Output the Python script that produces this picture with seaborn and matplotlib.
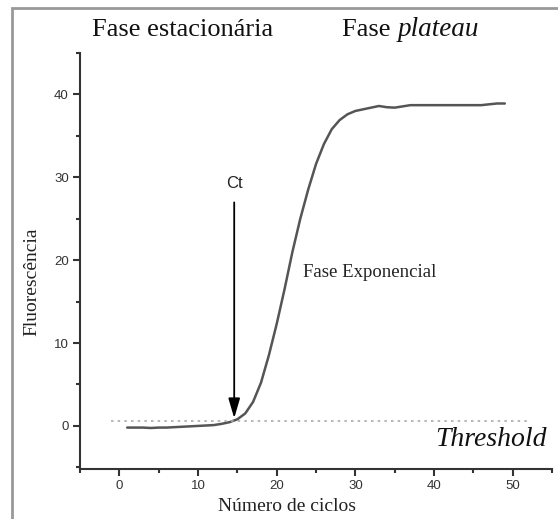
import numpy as np
import matplotlib
matplotlib.use("Agg")
import matplotlib.pyplot as plt
from matplotlib.ticker import MultipleLocator
from matplotlib.patches import Rectangle
import seaborn as sns
import pandas as pd

# data
cycles = list(range(1, 50))
fluor = [-0.2, -0.2, -0.2, -0.25, -0.2, -0.2, -0.15, -0.1, -0.05, 0.0,
         0.05, 0.1, 0.25, 0.45, 0.8, 1.5, 2.9, 5.2, 8.5, 12.3,
         16.5, 21.0, 25.0, 28.5, 31.6, 34.0, 35.8, 36.9, 37.6, 38.0,
         38.2, 38.4, 38.6, 38.45, 38.4, 38.55, 38.7, 38.7, 38.7, 38.7,
         38.7, 38.7, 38.7, 38.7, 38.7, 38.7, 38.8, 38.9, 38.9]
threshold = 0.6
ct_cycle = 14.6
x_ticks = [0, 10, 20, 30, 40, 50]
y_ticks = [0, 10, 20, 30, 40]

df = pd.DataFrame({"ciclo": cycles, "fluor": fluor})

sns.set_style("ticks")
serif = ["Liberation Serif", "DejaVu Serif"]
sans = ["Liberation Sans", "DejaVu Sans"]

fig = plt.figure(figsize=(5.58, 5.19), dpi=100)
ax = fig.add_axes([0.1434, 0.0963, 0.8459, 0.8017])

sns.lineplot(data=df, x="ciclo", y="fluor", ax=ax, color="#555555", lw=1.8)

# threshold line
ax.hlines(threshold, -1, 52, colors="#aaaaaa", linestyles=(0, (1.5, 2.5)), lw=1.2)

# Ct arrow
ax.annotate("", xy=(ct_cycle, threshold), xytext=(ct_cycle, 27.3),
            arrowprops=dict(arrowstyle="-|>,head_length=0.75,head_width=0.22",
                            color="black", lw=1.3, mutation_scale=16))
ax.text(ct_cycle, 29.3, "Ct", ha="center", va="center", fontsize=12,
        family=sans, color="#222222")

ax.text(23.3, 18.5, "Fase Exponencial", ha="left", va="center", fontsize=13.5,
        family=serif, color="#222222")

ax.set_xlim(-5, 55)
ax.set_ylim(-5.2, 45)
ax.set_xticks(x_ticks)
ax.set_yticks(y_ticks)
ax.xaxis.set_minor_locator(MultipleLocator(5))
ax.yaxis.set_minor_locator(MultipleLocator(5))
ax.tick_params(which="major", length=5, width=1.5, color="#333333", labelsize=9.5,
               labelcolor="#333333", pad=3)
ax.tick_params(which="minor", length=3, width=1.5, color="#333333")
for lab in ax.get_xticklabels() + ax.get_yticklabels():
    lab.set_family(sans)

ax.set_xlabel("Número de ciclos", family=serif, fontsize=14, color="#222222")
ax.set_ylabel("Fluorescência", family=serif, fontsize=14, color="#222222")
ax.xaxis.set_label_coords(0.4386, -0.07)
ax.yaxis.set_label_coords(-0.085, 0.45)

sns.despine(ax=ax)
for side in ["left", "bottom"]:
    ax.spines[side].set_linewidth(1.5)
    ax.spines[side].set_color("#333333")

# titles on top
ty = 1 - 30 / 519
fig.text(183 / 558, ty, "Fase estacionária", ha="center", va="center",
         fontsize=19, family=serif, color="#111111")
t1 = fig.text(342 / 558, ty, "Fase ", ha="left", va="center",
              fontsize=19, family=serif, color="#111111")
fig.canvas.draw()
w = t1.get_window_extent().width / fig.bbox.width
fig.text(342 / 558 + w, ty, "plateau", ha="left", va="center",
         fontsize=19.5, family=serif, style="italic", color="#111111")
fig.text(547 / 558, 1 - 440 / 519, "Threshold", ha="right", va="center",
         fontsize=20, family=serif, style="italic", color="#111111")

# outer frame
fig.add_artist(Rectangle((12 / 558, -0.05), 1.0, 1.05 - 7.5 / 519, transform=fig.transFigure,
                         fill=False, edgecolor="#999999", lw=2))

fig.savefig("out.png", dpi=100)
